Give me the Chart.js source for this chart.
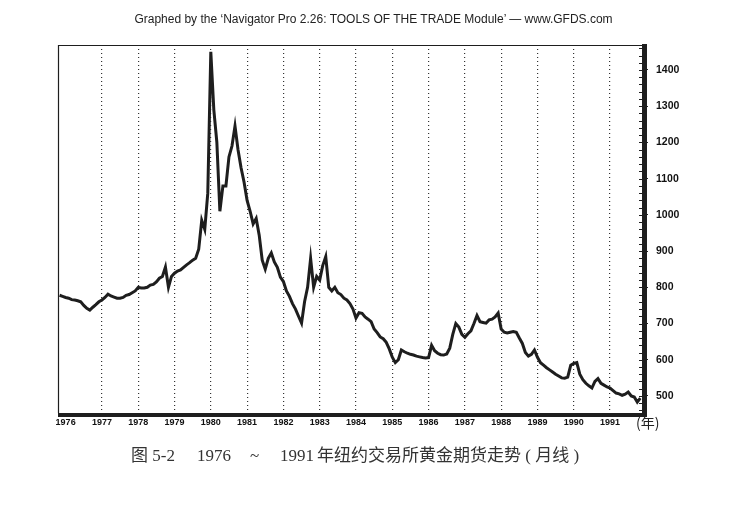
<!DOCTYPE html>
<html>
<head>
<meta charset="utf-8">
<script src="https://cdn.jsdelivr.net/npm/chart.js@4.4.1/dist/chart.umd.min.js"></script>
<style>
  body { margin: 0; background: #fff; }
  #wrap { position: relative; width: 747px; height: 510px; }
  #chart { position: absolute; left: 0; top: 0; }
  .title { position: absolute; top: 12px; left: 0; width: 747px; text-align: center;
    font: 12px "Liberation Sans", Arial, sans-serif; color: #222; }
  .unit { position: absolute; left: 636px; top: 412px;
    font: 14px "Noto Sans CJK SC", sans-serif; color: #222; }
  .cap { position: absolute; top: 446px; white-space: pre; line-height: 20px;
    font-family: "Liberation Serif", "Noto Sans CJK SC", serif; font-size: 17px; color: #333; }
</style>
</head>
<body>
<div id="wrap">
  <canvas id="chart" width="747" height="510"></canvas>
  <div class="title">Graphed by the ‘Navigator Pro 2.26: TOOLS OF THE TRADE Module’ — www.GFDS.com</div>
  <div class="unit">(年)</div>
  <span class="cap" style="left:131px">图 5-2</span>
  <span class="cap" style="left:197px">1976</span>
  <span class="cap" style="left:250px">~</span>
  <span class="cap" style="left:280px">1991</span>
  <span class="cap" style="left:317px">年纽约交易所黄金期货走势 ( 月线 )</span>
</div>
<script>
// monthly prices (Nov 1975 .. Nov 1991)
const p1975 = [778, 775]; // Nov, Dec
const p1976 = [772, 770, 766, 765, 763, 760, 750, 742, 737, 745, 752, 760];
const p1977 = [765, 772, 781, 776, 773, 770, 770, 772, 778, 780, 785, 790];
const p1978 = [800, 798, 798, 800, 806, 808, 815, 825, 830, 856, 800, 830];
const p1979 = [839, 845, 848, 855, 862, 868, 875, 880, 905, 985, 960, 1060];
const p1980 = [1450, 1290, 1200, 1010, 1080, 1080, 1160, 1190, 1245, 1180, 1130, 1090];
const p1981 = [1040, 1010, 975, 990, 944, 875, 850, 880, 895, 870, 855, 828];
const p1982 = [816, 790, 775, 755, 740, 720, 701, 760, 800, 880, 800, 830];
const p1983 = [820, 860, 885, 800, 790, 800, 785, 780, 770, 765, 755, 740];
const p1984 = [715, 730, 728, 718, 712, 705, 685, 675, 663, 658, 648, 630];
const p1985 = [607, 592, 600, 627, 622, 618, 615, 613, 610, 608, 606, 605];
const p1986 = [606, 640, 625, 618, 614, 613, 616, 632, 670, 700, 690, 670];
const p1987 = [662, 672, 680, 700, 722, 705, 703, 701, 710, 712, 718, 729];
const p1988 = [685, 676, 674, 676, 678, 676, 660, 645, 620, 610, 615, 627];
const p1989 = [607, 592, 585, 578, 572, 566, 560, 555, 550, 549, 552, 585];
const p1990 = [590, 592, 560, 545, 535, 528, 522, 540, 548, 535, 530, 525];
const p1991 = [522, 515, 508, 506, 502, 505, 511, 500, 497, 483, 494]; // Jan..Nov

const years = [1976, 1977, 1978, 1979, 1980, 1981, 1982, 1983, 1984, 1985, 1986, 1987, 1988, 1989, 1990, 1991];
const priceTicks = [500, 600, 700, 800, 900, 1000, 1100, 1200, 1300, 1400];

// build {x: decimal year, y} points
const points = [];
p1975.forEach((v, i) => points.push({ x: 1975 + (10 + i) / 12, y: v }));
const byYear = [p1976, p1977, p1978, p1979, p1980, p1981, p1982, p1983, p1984, p1985, p1986, p1987, p1988, p1989, p1990, p1991];
byYear.forEach((arr, k) => {
    arr.forEach((v, m) => points.push({ x: years[k] + m / 12, y: v }));
});

const frame = {
    id: 'frame',
    afterDatasetsDraw(chart) {
        const { ctx, chartArea: a, scales } = chart;
        ctx.save();
        ctx.fillStyle = '#1e1e1e';
        ctx.strokeStyle = '#1e1e1e';
        ctx.lineWidth = 1.2;
        ctx.beginPath();
        ctx.moveTo(a.left + 0.5, a.bottom);
        ctx.lineTo(a.left + 0.5, a.top + 0.5);
        ctx.lineTo(a.right, a.top + 0.5);
        ctx.stroke();
        // heavy right and bottom edges
        ctx.fillRect(a.right, a.top - 1, 5, a.bottom - a.top + 5);
        ctx.fillRect(a.left, a.bottom, a.right - a.left + 5, 4);
        // small inner ticks along the right edge
        ctx.lineWidth = 1;
        for (let v = 460; v <= 1460; v += 20) {
            const y = Math.round(scales.y.getPixelForValue(v)) + 0.5;
            ctx.beginPath();
            ctx.moveTo(a.right - 3, y);
            ctx.lineTo(a.right, y);
            ctx.stroke();
        }
        ctx.restore();
    }
};

new Chart(document.getElementById('chart'), {
    type: 'line',
    data: {
        datasets: [{
            data: points,
            borderColor: '#1e1e1e',
            borderWidth: 3,
            pointRadius: 0,
            tension: 0,
            borderJoinStyle: 'miter'
        }]
    },
    options: {
        responsive: false,
        animation: false,
        layout: { padding: { left: 58, top: 45, right: 0, bottom: 75 } },
        plugins: { legend: { display: false }, tooltip: { enabled: false } },
        scales: {
            x: {
                type: 'linear',
                min: 1975.79,
                max: 1991.88,
                afterFit: s => { s.height = 22; },
                afterBuildTicks: s => { s.ticks = years.map(v => ({ value: v })); },
                border: { display: false, dash: [1, 3] },
                grid: {
                    drawTicks: false,
                    color: c => (c.tick && c.tick.value === 1976) ? 'rgba(0,0,0,0)' : '#333',
                    lineWidth: 1.2
                },
                ticks: {
                    padding: 4,
                    color: '#111',
                    font: { family: 'Liberation Sans, Arial', size: 9, weight: 'bold' },
                    callback: v => String(v),
                    maxRotation: 0,
                    autoSkip: false
                }
            },
            y: {
                position: 'right',
                min: 453,
                max: 1469,
                afterFit: s => { s.width = 105; },
                afterBuildTicks: s => { s.ticks = priceTicks.map(v => ({ value: v })); },
                border: { display: false },
                grid: { drawOnChartArea: false, drawTicks: true, tickLength: 6, color: '#222' },
                ticks: {
                    padding: 8,
                    color: '#111',
                    font: { family: 'Liberation Sans, Arial', size: 10.5, weight: 'bold' },
                    callback: v => String(v)
                }
            }
        }
    },
    plugins: [frame]
});
</script>
</body>
</html>
